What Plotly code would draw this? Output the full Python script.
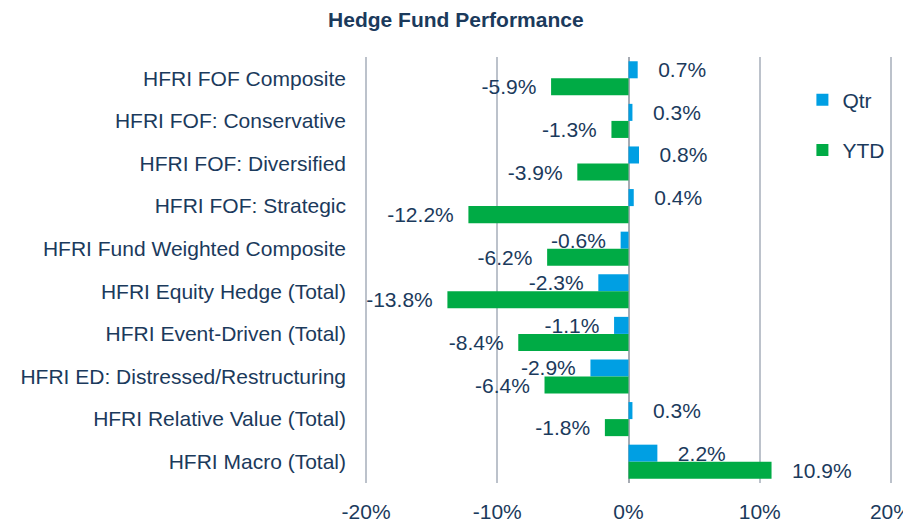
import plotly.graph_objects as go

categories = [
    "HFRI FOF Composite",
    "HFRI FOF: Conservative",
    "HFRI FOF: Diversified",
    "HFRI FOF: Strategic",
    "HFRI Fund Weighted Composite",
    "HFRI Equity Hedge (Total)",
    "HFRI Event-Driven (Total)",
    "HFRI ED: Distressed/Restructuring",
    "HFRI Relative Value (Total)",
    "HFRI Macro (Total)",
]
qtr = [0.7, 0.3, 0.8, 0.4, -0.6, -2.3, -1.1, -2.9, 0.3, 2.2]
ytd = [-5.9, -1.3, -3.9, -12.2, -6.2, -13.8, -8.4, -6.4, -1.8, 10.9]
x_ticks = [-20, -10, 0, 10, 20]
x_tick_labels = ["-20%", "-10%", "0%", "10%", "20%"]

TEXT = "#1B3A5C"
FS = 21


def labels(vals):
    return [("   %.1f%%" % v) if v > 0 else ("%.1f%%  " % v) for v in vals]


fig = go.Figure()
fig.add_trace(go.Bar(
    y=categories, x=qtr, name="Qtr", orientation="h",
    marker=dict(color="#009FE3", line=dict(width=0)),
    text=labels(qtr), textposition="outside", cliponaxis=False,
    constraintext="none",
    textfont=dict(size=FS, color=TEXT), legendgroup="a",
))
fig.add_trace(go.Bar(
    y=categories, x=ytd, name="YTD", orientation="h",
    marker=dict(color="#00AB45", line=dict(width=0)),
    text=labels(ytd), textposition="outside", cliponaxis=False,
    constraintext="none",
    textfont=dict(size=FS, color=TEXT), legendgroup="b",
))

fig.update_layout(
    width=903, height=515,
    paper_bgcolor="white", plot_bgcolor="white",
    font=dict(family="Liberation Sans, Arial, sans-serif", size=FS, color=TEXT),
    title=dict(text="<b>Hedge Fund Performance</b>", x=0.496, xanchor="center",
               y=0.978, yanchor="middle", font=dict(size=FS, color=TEXT)),
    margin=dict(l=357, r=19, t=49, b=40),
    barmode="group", bargap=0.2, bargroupgap=0,
    showlegend=True,
    legend=dict(x=0.83, y=0.947, xanchor="left", yanchor="top",
                tracegroupgap=20, font=dict(size=FS, color=TEXT),
                bgcolor="rgba(0,0,0,0)", itemwidth=30),
    xaxis=dict(range=[-20.08, 20.08], tickvals=x_ticks, ticktext=x_tick_labels,
               showgrid=True, gridcolor="#BCC2CB", gridwidth=2,
               zeroline=True, zerolinecolor="#A6ABB3", zerolinewidth=2,
               showline=False, ticks="", ticklabelstandoff=14, automargin=False,
               ticklabeloverflow="allow",
               tickfont=dict(size=FS, color=TEXT)),
    yaxis=dict(autorange="reversed", showgrid=False, zeroline=False,
               showline=False, ticks="", ticklabelstandoff=18, automargin=False,
               tickfont=dict(size=FS, color=TEXT)),
)

fig.write_html("out.html")
